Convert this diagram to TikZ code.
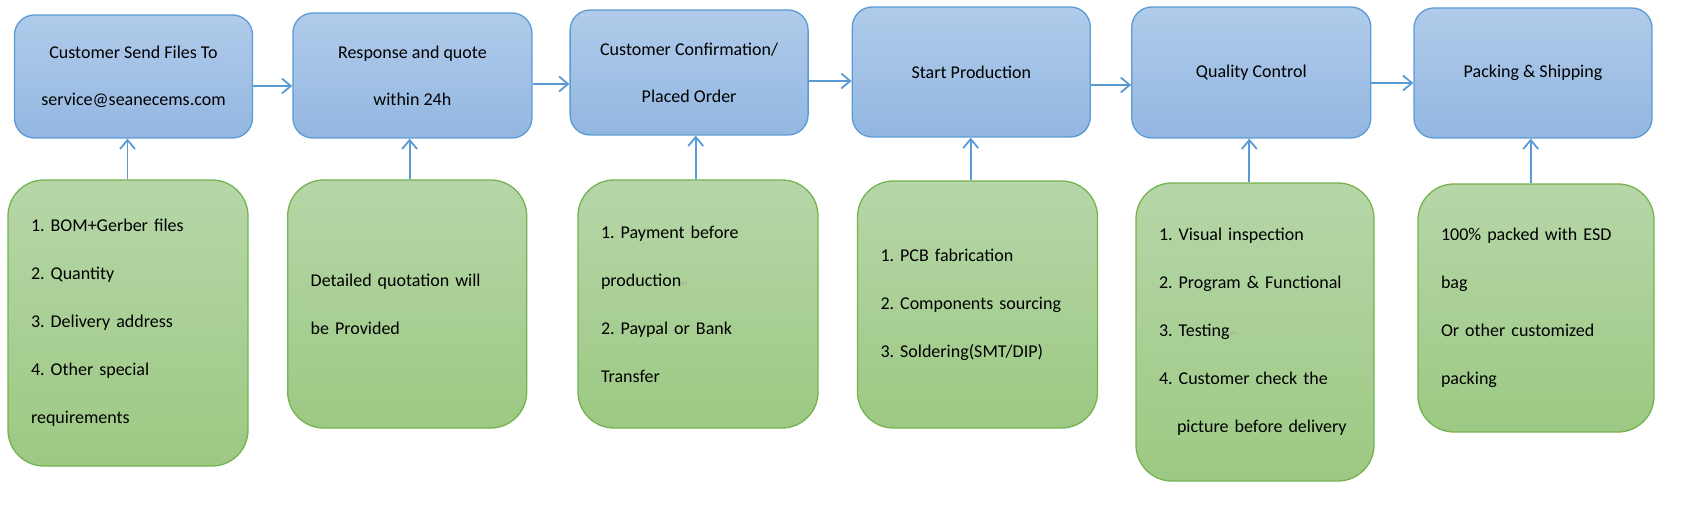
\documentclass[tikz,border=0pt]{standalone}
\usepackage{fontspec}
\setmainfont{Carlito}
\newfontfamily\symfnt{DejaVu Sans}
\usetikzlibrary{arrows.meta}
\definecolor{bluetop}{HTML}{B0CBEA}
\definecolor{bluebot}{HTML}{93B7E1}
\definecolor{blueline}{HTML}{5B9BD5}
\definecolor{greentop}{HTML}{B6D6A8}
\definecolor{greenbot}{HTML}{9CC983}
\definecolor{greenline}{HTML}{75B350}
\newcommand{\retmark}{{\symfnt\color{black!35}\fontsize{8}{8}\selectfont ↵}}
\newcommand{\oneline}[1]{\mbox{#1}}
\frenchspacing
\begin{document}
\begin{tikzpicture}[x=1pt,y=-1pt,
  stepbox/.style={draw=blueline, line width=1.3pt, rounded corners=20pt,
    top color=bluetop, bottom color=bluebot, align=center,
    font=\fontsize{18}{47}\selectfont, inner sep=0pt},
  notebox/.style={draw=greenline, line width=1.3pt, rounded corners=36pt,
    top color=greentop, bottom color=greenbot, align=left,
    font=\fontsize{18}{48}\selectfont, inner xsep=23pt, inner ysep=0pt},
  arr/.style={draw=blueline, line width=1.8pt,
    -{Straight Barb[length=9pt,width=15pt,line width=1.8pt]}}
]
\useasboundingbox (0,0) rectangle (1686,510);

% top row
\node[stepbox, minimum width=238pt, minimum height=123pt] (b1) at (133.5,76.5)
  {Customer Send Files To\\service@seanecems.com};
\node[stepbox, minimum width=239pt, minimum height=125pt] (b2) at (412.4,75.5)
  {Response and quote\\within 24h};
\node[stepbox, minimum width=238pt, minimum height=125pt] (b3) at (689.1,72.5)
  {Customer Confirmation/\\Placed Order};
\node[stepbox, minimum width=238pt, minimum height=130pt] (b4) at (971.3,72)
  {Start Production};
\node[stepbox, minimum width=239pt, minimum height=131pt] (b5) at (1251.3,72.5)
  {Quality Control};
\node[stepbox, minimum width=238pt, minimum height=130pt] (b6) at (1533,73)
  {Packing \& Shipping};

% bottom row
\node[notebox, minimum width=240pt, minimum height=286pt, text width=194pt] (g1) at (128,323)
  {\oneline{1. BOM+Gerber files}\\\oneline{2. Quantity}\\\oneline{3. Delivery address}\\\oneline{4. Other special}\\\oneline{requirements}};
\node[notebox, minimum width=239pt, minimum height=248pt, text width=193pt] (g2) at (407.2,304)
  {\oneline{Detailed quotation will}\\\oneline{be Provided}};
\node[notebox, minimum width=240pt, minimum height=248pt, text width=194pt] (g3) at (698,304)
  {\oneline{1. Payment before}\\\oneline{production\retmark}\\\oneline{2. Paypal or Bank}\\\oneline{Transfer}};
\node[notebox, minimum width=240pt, minimum height=247pt, text width=194pt] (g4) at (977.5,304.5)
  {\oneline{1. PCB fabrication}\\\oneline{2. Components sourcing}\\\oneline{3. Soldering(SMT/DIP)}};
\node[notebox, minimum width=238pt, minimum height=298pt, text width=192pt] (g5) at (1255,332)
  {\oneline{1. Visual inspection}\\\oneline{2. Program \& Functional}\\\oneline{3. Testing\retmark}\\\oneline{4. Customer check the}\\\oneline{\hspace*{18pt}picture before delivery}};
\node[notebox, minimum width=236pt, minimum height=248pt, text width=190pt] (g6) at (1536,308)
  {\oneline{100\% packed with ESD}\\\oneline{bag}\\\oneline{Or other customized}\\\oneline{packing}};

% horizontal arrows
\draw[arr] (b1.east |- 0,86) -- (b2.west |- 0,86);
\draw[arr] (b2.east |- 0,84) -- (b3.west |- 0,84);
\draw[arr] (b3.east |- 0,81) -- (b4.west |- 0,81);
\draw[arr] (b4.east |- 0,85) -- (b5.west |- 0,85);
\draw[arr] (b5.east |- 0,83) -- (b6.west |- 0,83);

% vertical arrows
\draw[arr] (g1.north -| 127.5,0) -- (b1.south -| 127.5,0);
\draw[arr] (g2.north -| 409.6,0) -- (b2.south -| 409.6,0);
\draw[arr] (g3.north -| 695.7,0) -- (b3.south -| 695.7,0);
\draw[arr] (g4.north -| 970.7,0) -- (b4.south -| 970.7,0);
\draw[arr] (g5.north -| 1249.3,0) -- (b5.south -| 1249.3,0);
\draw[arr] (g6.north -| 1530.7,0) -- (b6.south -| 1530.7,0);
\end{tikzpicture}
\end{document}
